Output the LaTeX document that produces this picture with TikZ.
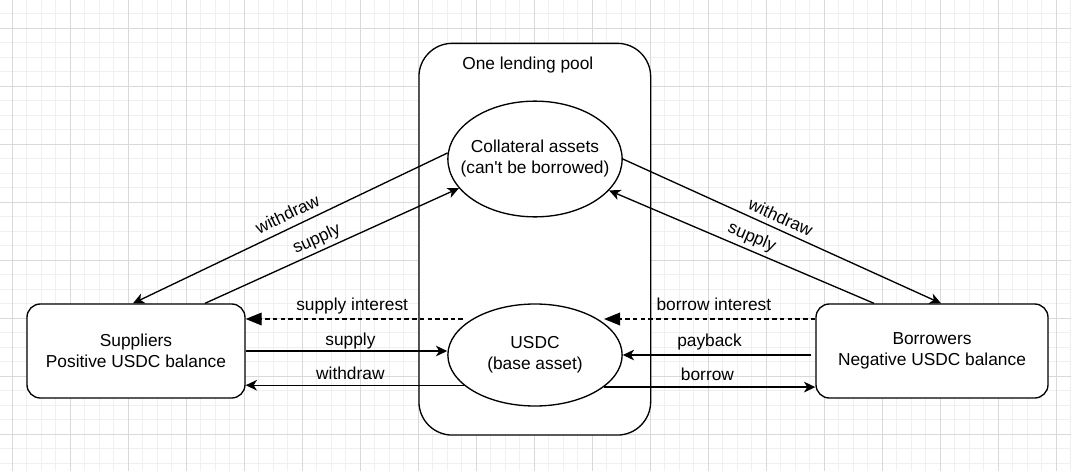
\documentclass[tikz,border=0pt]{standalone}
\usepackage{fontspec}
\setmainfont{Liberation Sans}[Ligatures=TeXOff]
\usetikzlibrary{arrows.meta,calc,shapes.geometric}
\begin{document}
\begin{tikzpicture}[x=0.75pt,y=-0.75pt,
  every node/.style={font=\fontsize{13}{15.75}\selectfont},
  gridminor/.style={draw=black!6, line width=0.6pt},
  gridmajor/.style={draw=black!15, line width=0.6pt},
  box/.style={draw, line width=1pt, fill=white, rounded corners=10pt, minimum height=70.5pt, inner sep=0pt, align=center},
  oval/.style={draw, ellipse, line width=1pt, fill=white, inner sep=0pt, minimum width=130.7pt},
  flow/.style={line width=1pt, -{Stealth[length=8.5pt,width=8pt,inset=2.5pt]}},
  interest/.style={line width=1pt, dash pattern=on 3.4pt off 2.4pt, -{Triangle[length=12pt,width=9.5pt]}},
  lbl/.style={text depth=0pt, inner sep=0pt, outer sep=0pt}
]
\useasboundingbox (0,0) rectangle (1071,471);
\fill[white] (0,0) rectangle (1071,471);
% grid
\foreach \i in {0,...,73} \draw[gridminor] (12.3+14.5*\i,0) -- (12.3+14.5*\i,471);
\foreach \j in {-1,...,30} \draw[gridminor] (0,28.3+14.5*\j) -- (1071,28.3+14.5*\j);
\foreach \i in {0,...,18} \draw[gridmajor] (12.3+58*\i,0) -- (12.3+58*\i,471);
\foreach \j in {0,...,7} \draw[gridmajor] (0,28.3+58*\j) -- (1071,28.3+58*\j);

% pool
\node[draw, line width=1pt, fill=white, rounded corners=25pt, minimum width=173.8pt, minimum height=293.8pt, inner sep=0pt] (pool) at (534.8,239.2) {};
\node (title) at ($(pool.north)+(-7,22)$) {One lending pool};

% ellipses
\node[oval, minimum height=86.8pt, label={[align=center]center:Collateral assets\\(can't be borrowed)}] (coll) at (535,159) {};
\node[oval, minimum height=76.5pt, label={[align=center]center:USDC\\(base asset)}] (usdc) at (535,355) {};

% boxes
\node[box, minimum width=163.5pt] (sup) at (136,351) {Suppliers\\Positive USDC balance};
\node[box, minimum width=174pt] (bor) at (932,351) {Borrowers\\Negative USDC balance};

% helper coordinates
\coordinate (supint) at ($(usdc.center)+(-72,-36)$);
\coordinate (borint) at ($(usdc.center)+(69,-36)$);
\coordinate (borsrc) at ($(bor.west)+(0,-32)$);

% left side
\draw[flow] (coll.176) -- node[lbl, sloped, above=6pt, pos=0.49] {withdraw} ($(sup.north)+(-3,0)$);
\draw[flow] ($(sup.north)+(69,0)$) -- node[lbl, sloped, above=5.6pt, pos=0.46] {supply} (coll.201);
\draw[interest] (supint) -- node[lbl, above=6.5pt, pos=0.51] {supply interest} (supint -| sup.east);
\draw[flow] (sup.east) -- node[lbl, above=4.5pt, pos=0.52] {supply} (sup.east -| usdc.west);
\draw[flow] (usdc.203) -- node[lbl, above=4.2pt, pos=0.52] {withdraw} (usdc.203 -| sup.east);

% right side
\draw[flow] (coll.east) -- node[lbl, sloped, above=4.8pt, pos=0.48] {withdraw} ($(bor.north)+(9,0)$);
\draw[flow] ($(bor.north)+(-58,0)$) -- node[lbl, sloped, above=6pt, pos=0.48] {supply} (coll.337);
\draw[interest] (borsrc) -- node[lbl, above=6.5pt, pos=0.48] {borrow interest} (borint);
\draw[flow] ($(usdc.east -| bor.west)+(-4,0)$) -- node[lbl, above=6.75pt, pos=0.54] {payback} (usdc.east);
\draw[flow] (usdc.335) -- node[lbl, above=4.7pt, pos=0.49] {borrow} (usdc.335 -| bor.west);
\end{tikzpicture}
\end{document}
